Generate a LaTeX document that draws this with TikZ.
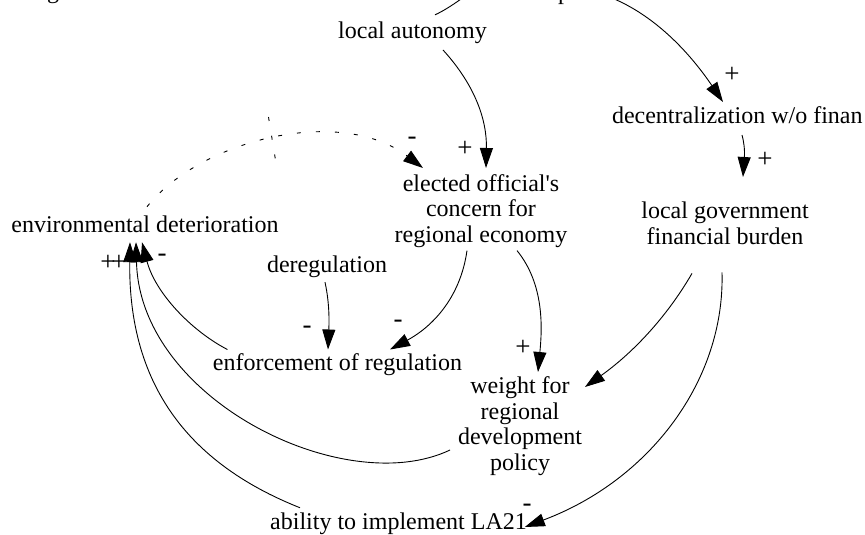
\documentclass[tikz,border=0pt]{standalone}
\usepackage{fontspec}
\setmainfont{Liberation Serif}[Ligatures=TeXOff]
\usetikzlibrary{arrows.meta}
\begin{document}
\begin{tikzpicture}[x=1pt,y=-1pt,
  var/.style={font=\fontsize{24}{25.5}\selectfont, inner sep=0pt, outer sep=0pt, align=center},
  sign/.style={font=\fontsize{27}{29}\selectfont, inner sep=0pt},
  link/.style={line width=0.9pt, -{Triangle[length=20pt,width=13pt]}},
  delaylink/.style={link, dash pattern=on 4pt off 15pt},
  delaymark/.style={line width=0.9pt, dash pattern=on 4pt off 15pt},
]
\fill[white] (0,0) rectangle (865,535);
\useasboundingbox (0,0) rectangle (865,535);

% variables
\node[var, anchor=base] (aut) at (412.5,38.5) {local autonomy};
\node[var, anchor=base] (topg) at (53,-1) {g};
\node[var, anchor=base] (topp) at (564,0) {p};
\node[var, anchor=base west] (dec) at (612,123.5) {decentralization w/o finan};
\node[var, anchor=north] (gov) at (725,202) {local government\\financial burden};
\node[var, anchor=north] (ele) at (481,174.5) {elected official's\\concern for\\regional economy};
\node[var, anchor=base] (env) at (145,232) {environmental deterioration};
\node[var, anchor=base] (dereg) at (327,272) {deregulation};
\node[var, anchor=base] (enf) at (337.5,370) {enforcement of regulation};
\node[var, anchor=north] (wgt) at (520,377) {weight for\\regional\\development\\policy};
\node[var, anchor=base] (abl) at (398.5,529) {ability to implement LA21};

% causal links
\draw[link] ([shift={(30.5,6.3)}]aut.south) .. controls (475,85) and (487,120) .. ([shift={(5,-6.5)}]ele.north);
\draw[link] ([shift={(22.5,-7)}]aut.north) .. controls (452,7) and (470,-8) .. ([shift={(-74,-20)}]topp.base);
\draw[link] ([shift={(48,-2)}]topp.base) .. controls (665,20) and (700,68) .. ([shift={(111,-21.5)}]dec.base west);
\draw[link] ([shift={(130,11.5)}]dec.base west) .. controls (746,150) and (744,160) .. ([shift={(18,-25)}]gov.north);
\draw[link] ([shift={(-33,29)}]gov.south) .. controls (665,320) and (630,355) .. ([shift={(3,10)}]wgt.north east);
\draw[link] ([shift={(-3,28)}]gov.south) .. controls (725,380) and (650,480) .. ([shift={(-2,-2)}]abl.base east);
\draw[link] ([shift={(-14,3)}]ele.south) .. controls (460,300) and (430,328) .. ([shift={(52.5,-3.6)}]enf.north);
\draw[link] ([shift={(36,3)}]ele.south) .. controls (545,285) and (542,330) .. ([shift={(18,-5)}]wgt.north);
\draw[link] ([shift={(-2,5)}]dereg.south) .. controls (330,305) and (329,325) .. ([shift={(-9.5,-3.6)}]enf.north);
\draw[link] ([shift={(14.5,-3.6)}]enf.north west) .. controls (190,330) and (155,292) .. ([shift={(-3,10)}]env.south);
\draw[link] ([shift={(-8,73)}]wgt.north west) .. controls (345,500) and (140,400) .. ([shift={(-9,10)}]env.south);
\draw[link] ([shift={(-98.5,-4.6)}]abl.north) .. controls (205,470) and (128,400) .. ([shift={(-15,10)}]env.south);
\draw[delaylink] ([shift={(2,-8.6)}]env.north) .. controls (200,140) and (340,105) .. ([shift={(-58,-6.5)}]ele.north);
\draw[delaymark] (268.5,117) -- (275.5,160);

% polarities
\node[sign] (p1) at (465,149) {+};
\node[sign] (p2) at (412,141) {-};
\node[sign] (p3) at (732,75) {+};
\node[sign] (p4) at (765,160) {+};
\node[sign] (p5) at (307,330) {-};
\node[sign] (p6) at (398,324) {-};
\node[sign] (p7) at (523,348) {+};
\node[sign] (p8) at (527,508) {-};
\node[sign] (p9) at (108,263) {+};
\node[sign] (p10) at (119,263) {+};
\node[sign] (p11) at (162,258) {-};
\end{tikzpicture}
\end{document}
